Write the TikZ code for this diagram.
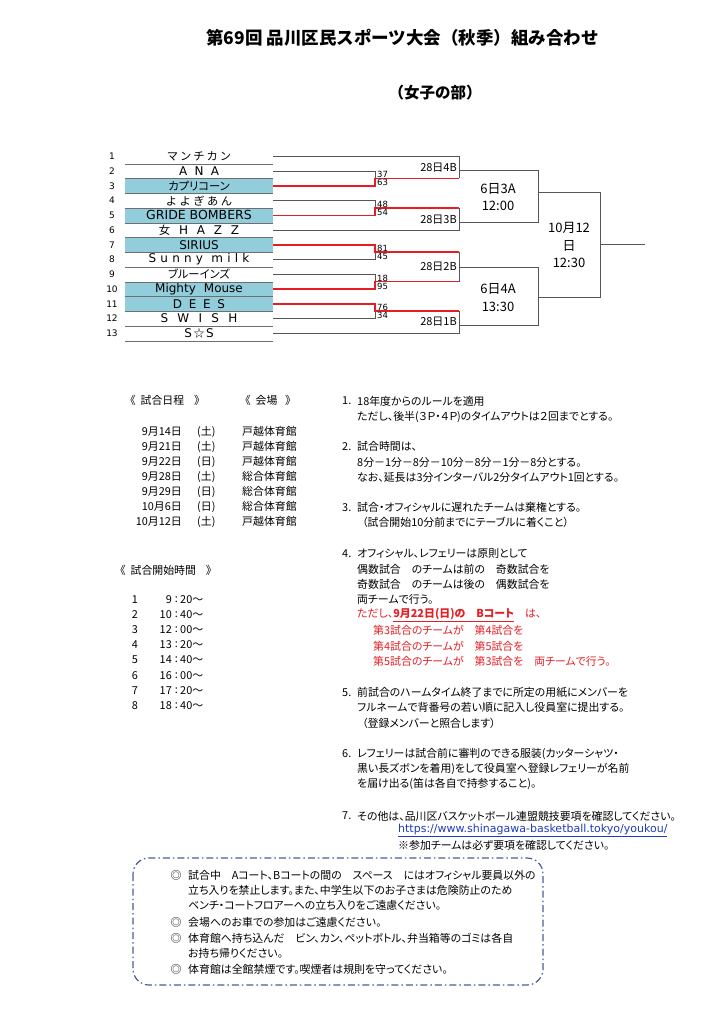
\documentclass[tikz,border=0pt]{standalone}
\usepackage{fontspec}
\setmainfont{Noto Sans CJK JP}[RawFeature=+palt]
\newfontfamily\cjkfix{Noto Sans CJK JP}
\newfontfamily\lat{DejaVu Sans}
\definecolor{wred}{RGB}{228,30,36}
\definecolor{tblue}{RGB}{146,205,220}
\definecolor{lgray}{RGB}{85,85,85}
\definecolor{cellln}{RGB}{110,110,110}
\definecolor{boxblue}{RGB}{72,96,150}
\definecolor{urlblue}{RGB}{30,60,190}
\tikzset{
  body/.style={anchor=west, inner sep=0pt, font=\fontsize{10.9}{12}\selectfont},
  bodyr/.style={body, text=wred},
  rowno/.style={inner sep=0pt, font=\lat\fontsize{9}{10}\selectfont},
  team/.style={minimum width=148pt, minimum height=14.75pt, inner sep=0pt, font=\fontsize{11.3}{12}\selectfont},
  teamb/.style={team, fill=tblue},
  latn/.style={font=\lat\fontsize{12}{13}\selectfont},
  cellline/.style={draw=cellln, line width=0.6pt},
  gline/.style={draw=lgray, line width=0.9pt},
  rline/.style={draw=wred, line width=1.5pt},
  score/.style={anchor=west, inner sep=0pt, font=\lat\fontsize{8.5}{9}\selectfont},
  rnd/.style={anchor=east, inner sep=0pt, font=\fontsize{11}{12}\selectfont},
  big/.style={inner sep=0pt, font=\fontsize{13}{14}\selectfont},
}
\begin{document}
\begin{tikzpicture}[x=1pt,y=-1pt]
\fill[white] (0,0) rectangle (724,1024);
\useasboundingbox (0,0) rectangle (724,1024);

% titles
\node[anchor=west, inner sep=0pt, font=\cjkfix\bfseries\fontsize{17.5}{20}\selectfont] (title) at (206,38) {第69回 品川区民スポーツ大会（秋季）組み合わせ};
\node[inner sep=0pt, font=\cjkfix\bfseries\fontsize{15.5}{17}\selectfont] (sub) at (435,92.5) {（女子の部）};

% row numbers
\foreach \i [evaluate=\i as \yy using 156.3+(\i-1)*14.75] in {1,...,13}
  \node[rowno] (n\i) at (112,\yy) {\i};

% team cells
\node[team] (t1) at (199,156.3) {\cjkfix マ\hspace{2pt}ン\hspace{2pt}チ\hspace{2pt}カ\hspace{2pt}ン};
\node[team,latn] (t2) at (199,171.05) {A\hspace{7.3pt}N\hspace{7.3pt}A};
\node[teamb] (t3) at (199,185.8) {カプリコーン};
\node[team] (t4) at (199,200.55) {\cjkfix よ\hspace{2.5pt}よ\hspace{2.5pt}ぎ\hspace{2.5pt}あ\hspace{2.5pt}ん};
\node[teamb,font=\lat\fontsize{12.5}{13}\selectfont] (t5) at (199,215.3) {GRIDE BOMBERS};
\node[team,latn] (t6) at (199,230.05) {{\cjkfix\fontsize{11.3}{12}\selectfont 女}\hspace{8.8pt}H\hspace{8.8pt}A\hspace{8.8pt}Z\hspace{8.8pt}Z};
\node[teamb,latn] (t7) at (199,244.8) {SIRIUS};
\node[team,latn] (t8) at (199,259.55) {S\hspace{4.2pt}u\hspace{4.2pt}n\hspace{4.2pt}n\hspace{4.2pt}y\hspace{8.4pt}m\hspace{4.2pt}i\hspace{4.2pt}l\hspace{4.2pt}k};
\node[team] (t9) at (199,274.3) {ブルーインズ};
\node[teamb,latn] (t10) at (199,289.05) {Mighty\hspace{8pt}Mouse};
\node[teamb,latn] (t11) at (199,303.8) {D\hspace{6.7pt}E\hspace{6.7pt}E\hspace{6.7pt}S};
\node[team,latn] (t12) at (199,318.55) {S\hspace{9.3pt}W\hspace{9.3pt}I\hspace{9.3pt}S\hspace{9.3pt}H};
\node[team,latn] (t13) at (199,333.3) {S\hspace{1.5pt}{\cjkfix\fontsize{11}{12}\selectfont ☆}\hspace{1.5pt}S};
\foreach \i in {1,...,13}
  \draw[cellline] (t\i.south west) -- (t\i.south east);

% bracket junctions
\coordinate (m1) at (375,178.4);  \coordinate (q1) at (459,178.4);
\coordinate (m2) at (375,207.9);  \coordinate (q2) at (459,207.9);
\coordinate (m3) at (375,252.2);  \coordinate (q3) at (459,252.2);
\coordinate (m4) at (375,281.7);  \coordinate (q4) at (459,281.7);
\coordinate (m5) at (375,311.2);  \coordinate (q5) at (459,311.2);
\coordinate (o1) at (459,170);    \coordinate (r1) at (538,170);
\coordinate (o2) at (459,222.5);  \coordinate (r2) at (538,222.5);
\coordinate (o3) at (459,267);    \coordinate (r3) at (538,267);
\coordinate (o4) at (459,325);    \coordinate (r4) at (538,325);
\coordinate (s1) at (538,192.7);  \coordinate (u1) at (600,192.7);
\coordinate (s2) at (538,297.3);  \coordinate (u2) at (600,297.3);
\coordinate (f1) at (600,244.3);  \coordinate (f2) at (645,244.3);

% gray lines
\draw[gline] (t1.east) -| (q1);
\draw[gline] (t2.east) -| (m1);
\draw[gline] (t4.east) -| (m2);
\draw[gline] (t6.east) -| (q2);
\draw[gline] (t8.east) -| (m3);
\draw[gline] (t9.east) -| (m4);
\draw[gline] (q3) -- (q4);
\draw[gline] (t12.east) -| (m5);
\draw[gline] (t13.east) -| (q5);
\draw[gline] (o1) -- (r1) -- (r2) -- (o2);
\draw[gline] (o3) -- (r3) -- (r4) -- (o4);
\draw[gline] (s1) -- (u1) -- (u2) -- (s2);
\draw[gline] (f1) -- (f2);
% red winner lines
\draw[rline] (t3.east) -| (m1) -- (q1);
\draw[rline] (t5.east) -| (m2) -- (q2);
\draw[rline] (t7.east) -| (m3) -- (q3);
\draw[rline] (t10.east) -| (m4) -- (q4);
\draw[rline] (t11.east) -| (m5) -- (q5);

% scores
\node[score] (sc1) at (377,174.8) {37};
\node[score] (sc2) at (377,182.6) {63};
\node[score] (sc3) at (377,204.2) {48};
\node[score] (sc4) at (377,212.3) {54};
\node[score] (sc5) at (377,248.6) {81};
\node[score] (sc6) at (377,256.6) {45};
\node[score] (sc7) at (377,278.2) {18};
\node[score] (sc8) at (377,286.3) {95};
\node[score] (sc9) at (377,307.7) {76};
\node[score] (sc10) at (377,315.8) {34};

% round labels
\node[rnd] (g1) at (457,167.5) {28日4B};
\node[rnd] (g2) at (457,219.5) {28日3B};
\node[rnd] (g3) at (457,267) {28日2B};
\node[rnd] (g4) at (457,321.5) {28日1B};
\node[big] (h1) at (498,188.5) {6日3A};
\node[big] (h2) at (498,206) {12:00};
\node[big] (h3) at (498,289) {6日4A};
\node[big] (h4) at (498,306.5) {13:30};
\node[big] (k1) at (569,228) {10月12};
\node[big] (k2) at (569,245.5) {日};
\node[big] (k3) at (569,263) {12:30};

% schedule
\node[body] (sh1) at (130,400) {《\hspace{5pt}試合日程\hspace{10pt}》};
\node[body] (sh2) at (245,400) {《\hspace{5pt}会場\hspace{8pt}》};
\foreach \d/\w/\v [count=\k] in {9月14日/(土)/戸越体育館, 9月21日/(土)/戸越体育館, 9月22日/(日)/戸越体育館, 9月28日/(土)/総合体育館, 9月29日/(日)/総合体育館, 10月6日/(日)/総合体育館, 10月12日/(土)/戸越体育館}{
  \node[body,anchor=east] (dd\k) at (182,{431.7+(\k-1)*15}) {\d};
  \node[body] (dw\k) at (197,{431.7+(\k-1)*15}) {\w};
  \node[body] (dv\k) at (242,{431.7+(\k-1)*15}) {\v};
}
\node[body] (st) at (120,570) {《\hspace{5pt}試合開始時間\hspace{10pt}》};
\foreach \h/\m [count=\k] in {9/20, 10/40, 12/00, 13/20, 14/40, 16/00, 17/20, 18/40}{
  \node[body,anchor=center] (tn\k) at (135,{599.5+(\k-1)*15.15}) {\k};
  \node[body,anchor=east] (th\k) at (172,{599.5+(\k-1)*15.15}) {\h};
  \node[body,anchor=center] (tc\k) at (176.5,{599.5+(\k-1)*15.15}) {:};
  \node[body] (tm\k) at (180,{599.5+(\k-1)*15.15}) {\m～};
}

% rules
\node[body] (r1n) at (342,401) {1.};
\node[body] (r1a) at (357,401) {18年度からのルールを適用};
\node[body] (r1b) at (357,417) {ただし、後半(３Ｐ・４Ｐ)のタイムアウトは２回までとする。};
\node[body] (r2n) at (342,446.5) {2.};
\node[body] (r2a) at (357,446.5) {試合時間は、};
\node[body] (r2b) at (357,462) {8分－1分－8分－10分－8分－1分－8分とする。};
\node[body] (r2c) at (357,477.5) {なお、延長は3分インターバル2分タイムアウト1回とする。};
\node[body] (r3n) at (342,507.5) {3.};
\node[body] (r3a) at (357,507.5) {試合・オフィシャルに遅れたチームは棄権とする。};
\node[body] (r3b) at (362,522.5) {（試合開始10分前までにテーブルに着くこと）};
\node[body] (r4n) at (342,554) {4.};
\node[body] (r4a) at (357,554) {オフィシャル、レフェリーは原則として};
\node[body] (r4b) at (357,569.5) {偶数試合　のチームは前の　奇数試合を};
\node[body] (r4c) at (357,584.5) {奇数試合　のチームは後の　偶数試合を};
\node[body] (r4d) at (357,599.5) {両チームで行う。};
\node[bodyr] (r4e) at (357,615.5) {ただし、\textbf{\underline{9月22日(日)の　Bコート}}　は、};
\node[bodyr] (r4f) at (373,630.5) {第3試合のチームが　第4試合を};
\node[bodyr] (r4g) at (373,646) {第4試合のチームが　第5試合を};
\node[bodyr] (r4h) at (373,661) {第5試合のチームが　第3試合を　両チームで行う。};
\node[body] (r5n) at (342,692.5) {5.};
\node[body] (r5a) at (357,692.5) {前試合のハームタイム終了までに所定の用紙にメンバーを};
\node[body] (r5b) at (357,707.5) {フルネームで背番号の若い順に記入し役員室に提出する。};
\node[body] (r5c) at (362,723) {（登録メンバーと照合します）};
\node[body] (r6n) at (342,753.5) {6.};
\node[body] (r6a) at (357,753.5) {レフェリーは試合前に審判のできる服装(カッターシャツ・};
\node[body] (r6b) at (357,768.5) {黒い長ズボンを着用)をして役員室へ登録レフェリーが名前};
\node[body] (r6c) at (357,784) {を届け出る(笛は各自で持参すること)。};
\node[body] (r7n) at (342,816) {7.};
\node[body] (r7a) at (357,816) {その他は、品川区バスケットボール連盟競技要項を確認してください。};
\node[body, text=urlblue, font=\lat\fontsize{11}{12}\selectfont] (r7b) at (398,830.5) {\underline{https://www.shinagawa-basketball.tokyo/youkou/}};
\node[body] (r7c) at (398,845) {※参加チームは必ず要項を確認してください。};

% notice box
\draw[boxblue, line width=1.2pt, rounded corners=16pt, dash pattern=on 7pt off 3pt on 1.5pt off 3pt] (133,858) rectangle (543,985);
\foreach \y in {875, 922, 938, 969}
  \node[body,anchor=center] at (176,\y) {◎};
\node[body] (b1) at (188,875) {試合中　Aコート、Bコートの間の　スペース　にはオフィシャル要員以外の};
\node[body] (b2) at (188,890) {立ち入りを禁止します。また、中学生以下のお子さまは危険防止のため};
\node[body] (b3) at (188,905) {ベンチ・コートフロアーへの立ち入りをご遠慮ください。};
\node[body] (b4) at (188,922) {会場へのお車での参加はご遠慮ください。};
\node[body] (b5) at (188,938) {体育館へ持ち込んだ　ビン、カン、ペットボトル、弁当箱等のゴミは各自};
\node[body] (b6) at (188,953.5) {お持ち帰りください。};
\node[body] (b7) at (188,969) {体育館は全館禁煙です。喫煙者は規則を守ってください。};
\end{tikzpicture}
\end{document}
